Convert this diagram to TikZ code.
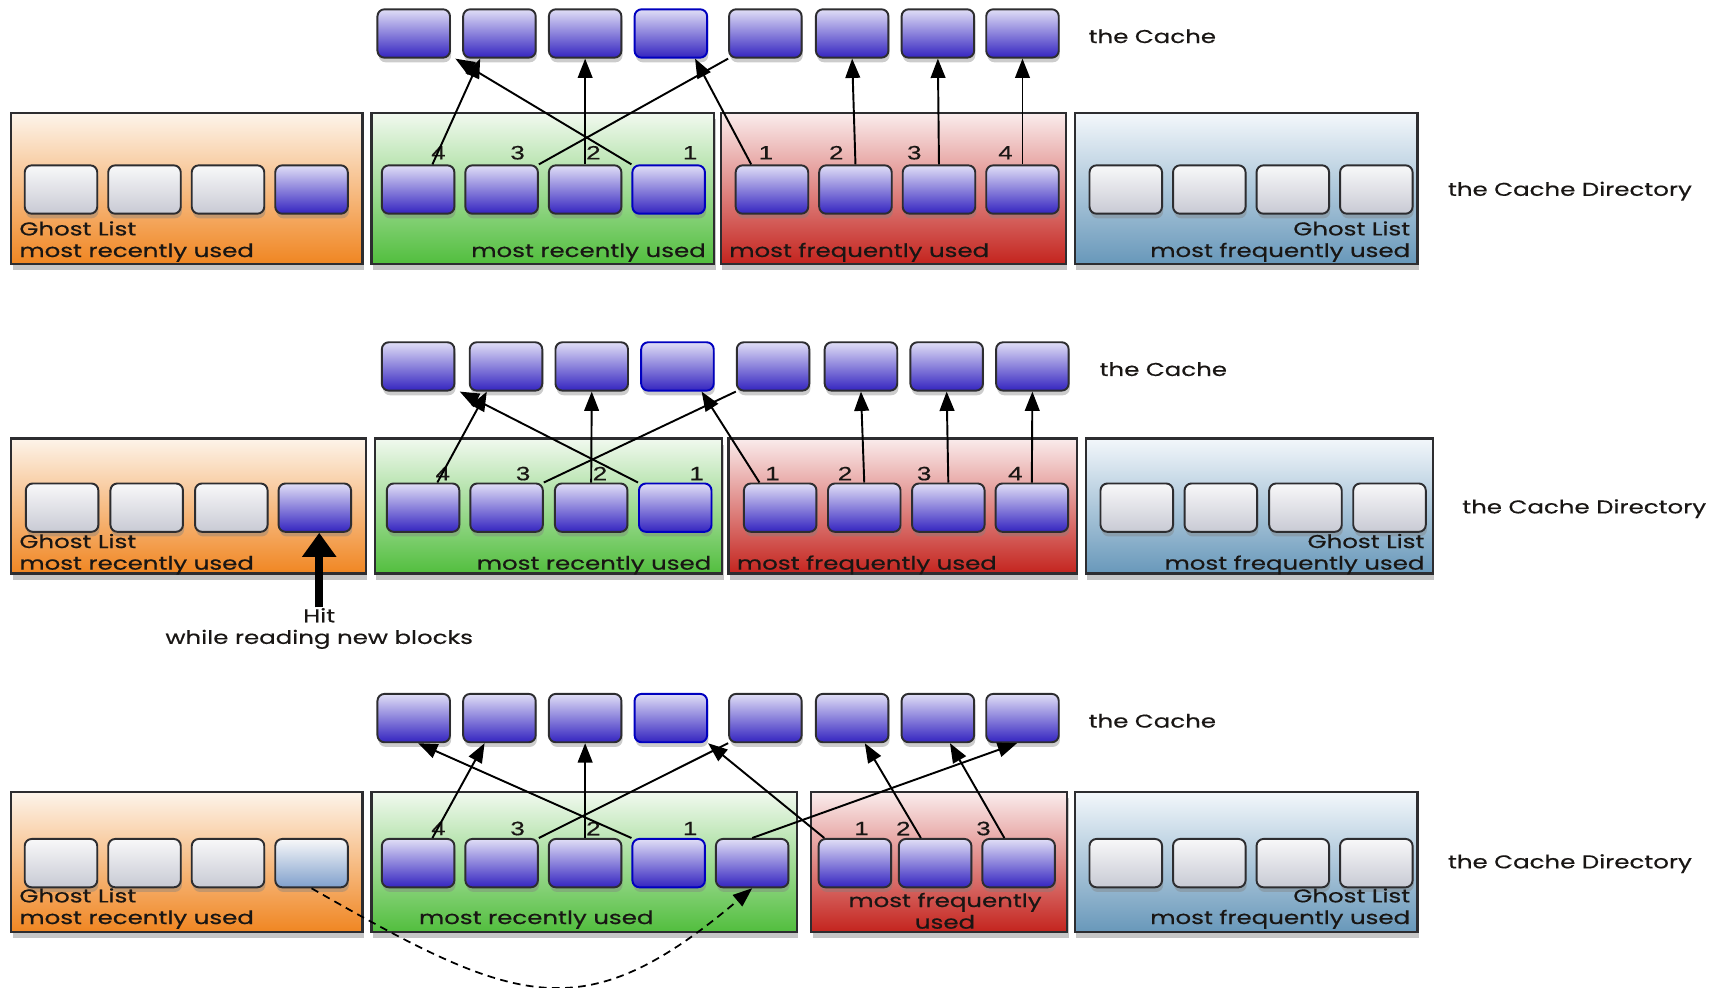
\documentclass[tikz,border=0pt]{standalone}
\usepackage{fontspec}
\usepackage{xcolor}
\usepackage{tikz}
\usetikzlibrary{arrows.meta,shadows}
\newfontfamily\labelfont[FakeStretch=1.32,FakeBold=0.5]{Poppins}
\newfontfamily\numfont[FakeStretch=1.35,FakeBold=0.4]{Liberation Sans}
\definecolor{textDark}{RGB}{25,22,20}
\definecolor{edgeDark}{RGB}{45,45,48}
\definecolor{orangeTop}{RGB}{253,244,234}
\definecolor{orangeBot}{RGB}{240,134,34}
\definecolor{greenTop}{RGB}{241,249,239}
\definecolor{greenBot}{RGB}{82,190,62}
\definecolor{redTop}{RGB}{250,236,236}
\definecolor{redBot}{RGB}{196,36,30}
\definecolor{blueTop}{RGB}{243,247,251}
\definecolor{blueBot}{RGB}{104,152,186}
\definecolor{blockTop}{RGB}{224,222,246}
\definecolor{blockBot}{RGB}{52,36,192}
\definecolor{ghostTop}{RGB}{248,248,249}
\definecolor{ghostBot}{RGB}{200,202,212}
\definecolor{fadeBot}{RGB}{128,160,204}

\begin{document}
\begin{tikzpicture}[every node/.style={text=textDark},
  region/.style={draw=edgeDark, line width=0.6pt, inner sep=0pt, minimum height=1.37cm,
    drop shadow={shadow xshift=0.4pt, shadow yshift=-1.6pt, opacity=0.45}},
  orangearea/.style={region, top color=orangeTop, bottom color=orangeBot},
  greenarea/.style={region, top color=greenTop, bottom color=greenBot},
  redarea/.style={region, top color=redTop, bottom color=redBot},
  bluearea/.style={region, top color=blueTop, bottom color=blueBot},
  block/.style={draw=edgeDark, line width=0.5pt, rounded corners=1.8pt, inner sep=0pt,
    minimum width=0.66cm, minimum height=0.44cm, top color=blockTop, bottom color=blockBot,
    drop shadow={shadow xshift=0.3pt, shadow yshift=-1.2pt, opacity=0.4}},
  hiblock/.style={block, draw=blue!75!black},
  ghost/.style={block, top color=ghostTop, bottom color=ghostBot},
  fadeblock/.style={block, top color=ghostTop, bottom color=fadeBot},
  lbl/.style={font=\labelfont\fontsize{4.8}{5.6}\selectfont, inner sep=0pt},
  num/.style={font=\numfont\fontsize{5}{5.5}\selectfont, inner sep=0pt},
  wire/.style={line width=0.5pt},
  link/.style={wire, -{Triangle[length=5pt,width=3.8pt]}}]
\useasboundingbox (0,0) rectangle (15.68,8.99);

% ---------- Panel 1 ----------
% the cache
\foreach \i/\x/\s in {1/3.765/block,2/4.545/block,3/5.325/block,4/6.105/hiblock,
                      5/6.965/block,6/7.755/block,7/8.535/block,8/9.305/block}
  \node[\s] (p1c\i) at (\x,8.685) {};
\node[lbl, anchor=west] (p1cache) at (9.90,8.66) {the Cache};

% the cache directory
\node[orangearea, minimum width=3.20cm] (p1orange) at (1.70,7.275) {};
\node[greenarea, minimum width=3.12cm] (p1green) at (4.94,7.275) {};
\node[redarea, minimum width=3.14cm] (p1red) at (8.13,7.275) {};
\node[bluearea, minimum width=3.12cm] (p1blue) at (11.34,7.275) {};
\node[lbl, anchor=west] (p1dir) at (13.17,7.25) {the Cache Directory};

\foreach \i/\x/\s in {1/0.555/ghost,2/1.315/ghost,3/2.075/ghost,4/2.835/block}
  \node[\s] (p1o\i) at (\x,7.265) {};
\foreach \i/\x/\s in {1/3.805/block,2/4.565/block,3/5.325/block,4/6.085/hiblock}
  \node[\s] (p1g\i) at (\x,7.265) {};
\foreach \i/\x in {1/7.025,2/7.785,3/8.545,4/9.305}
  \node[block] (p1r\i) at (\x,7.265) {};
\foreach \i/\x in {1/10.245,2/11.005,3/11.765,4/12.525}
  \node[ghost] (p1b\i) at (\x,7.265) {};

\foreach \n/\x in {4/3.99,3/4.71,2/5.40,1/6.28}
  \node[num] (p1gn\n) at (\x,7.60) {\n};
\foreach \n/\x in {1/6.97,2/7.61,3/8.32,4/9.15}
  \node[num] (p1rn\n) at (\x,7.60) {\n};

\node[lbl, anchor=south west, align=left] (p1olbl) at (0.17,6.60) {Ghost List\\most recently used};
\node[lbl, anchor=south east] (p1glbl) at (6.43,6.60) {most recently used};
\node[lbl, anchor=south west] (p1rlbl) at (6.63,6.60) {most frequently used};
\node[lbl, anchor=south east, align=right] (p1blbl) at (12.84,6.60) {Ghost List\\most frequently used};

\draw[link] ([xshift=0.13cm]p1g1.north) -- ([xshift=-0.175cm]p1c2.south);
\draw[link] (p1g4.north west) -- ([xshift=0.04cm]p1c1.south east);
\draw[link] (p1g3.north) -- (p1c3.south);
\draw[wire] (p1g2.north east) -- (p1c5.south west);
\draw[link] ([xshift=0.15cm]p1r1.north west) -- ([xshift=0.22cm]p1c4.south);
\foreach \i/\j in {2/6,3/7,4/8}
  \draw[link] (p1r\i.north) -- (p1c\j.south);

% ---------- Panel 2 ----------
\foreach \i/\x/\s in {1/3.805/block,2/4.605/block,3/5.385/block,4/6.165/hiblock,
                      5/7.035/block,6/7.835/block,7/8.615/block,8/9.395/block}
  \node[\s] (p2c\i) at (\x,5.655) {};
\node[lbl, anchor=west] (p2cache) at (10.00,5.63) {the Cache};

\node[orangearea, minimum width=3.23cm, minimum height=1.23cm] (p2orange) at (1.715,4.385) {};
\node[greenarea, minimum width=3.16cm, minimum height=1.23cm] (p2green) at (4.99,4.385) {};
\node[redarea, minimum width=3.17cm, minimum height=1.23cm] (p2red) at (8.215,4.385) {};
\node[bluearea, minimum width=3.16cm, minimum height=1.23cm] (p2blue) at (11.46,4.385) {};
\node[lbl, anchor=west] (p2dir) at (13.30,4.36) {the Cache Directory};

\foreach \i/\x/\s in {1/0.565/ghost,2/1.335/ghost,3/2.105/ghost,4/2.865/block}
  \node[\s] (p2o\i) at (\x,4.37) {};
\foreach \i/\x/\s in {1/3.85/block,2/4.61/block,3/5.38/block,4/6.145/hiblock}
  \node[\s] (p2g\i) at (\x,4.37) {};
\foreach \i/\x in {1/7.10,2/7.865,3/8.63,4/9.39}
  \node[block] (p2r\i) at (\x,4.37) {};
\foreach \i/\x in {1/10.345,2/11.11,3/11.88,4/12.645}
  \node[ghost] (p2b\i) at (\x,4.37) {};

\foreach \n/\x in {4/4.03,3/4.76,2/5.46,1/6.34}
  \node[num] (p2gn\n) at (\x,4.68) {\n};
\foreach \n/\x in {1/7.03,2/7.69,3/8.41,4/9.24}
  \node[num] (p2rn\n) at (\x,4.68) {\n};

\node[lbl, anchor=south west, align=left] (p2olbl) at (0.17,3.755) {Ghost List\\most recently used};
\node[lbl, anchor=south east] (p2glbl) at (6.48,3.755) {most recently used};
\node[lbl, anchor=south west] (p2rlbl) at (6.70,3.755) {most frequently used};
\node[lbl, anchor=south east, align=right] (p2blbl) at (12.97,3.755) {Ghost List\\most frequently used};

\draw[link] ([xshift=0.13cm]p2g1.north) -- ([xshift=-0.175cm]p2c2.south);
\draw[link] (p2g4.north west) -- ([xshift=0.04cm]p2c1.south east);
\draw[link] (p2g3.north) -- (p2c3.south);
\draw[wire] (p2g2.north east) -- (p2c5.south west);
\draw[link] ([xshift=0.15cm]p2r1.north west) -- ([xshift=0.22cm]p2c4.south);
\foreach \i/\j in {2/6,3/7,4/8}
  \draw[link] (p2r\i.north) -- (p2c\j.south);

% hit in the ghost list
\node[lbl, align=center] (hit) at (2.905,3.27) {Hit\\while reading new blocks};
\draw[line width=2pt, -{Triangle[width=0.3cm,length=0.22cm]}]
  (hit.north) -- (hit.north |- p2o4.south);

% ---------- Panel 3 ----------
\foreach \i/\x/\s in {1/3.765/block,2/4.545/block,3/5.325/block,4/6.105/hiblock,
                      5/6.965/block,6/7.755/block,7/8.535/block,8/9.305/block}
  \node[\s] (p3c\i) at (\x,2.455) {};
\node[lbl, anchor=west] (p3cache) at (9.90,2.43) {the Cache};

\node[orangearea, minimum width=3.20cm, minimum height=1.27cm] (p3orange) at (1.70,1.145) {};
\node[greenarea, minimum width=3.87cm, minimum height=1.27cm] (p3green) at (5.315,1.145) {};
\node[redarea, minimum width=2.33cm, minimum height=1.27cm] (p3red) at (8.545,1.145) {};
\node[bluearea, minimum width=3.12cm, minimum height=1.27cm] (p3blue) at (11.34,1.145) {};
\node[lbl, anchor=west] (p3dir) at (13.17,1.13) {the Cache Directory};

\foreach \i/\x/\s in {1/0.555/ghost,2/1.315/ghost,3/2.075/ghost,4/2.835/fadeblock}
  \node[\s] (p3o\i) at (\x,1.135) {};
\foreach \i/\x/\s in {1/3.805/block,2/4.565/block,3/5.325/block,4/6.085/hiblock,5/6.845/block}
  \node[\s] (p3g\i) at (\x,1.135) {};
\foreach \i/\x in {1/7.78,2/8.51,3/9.27}
  \node[block] (p3r\i) at (\x,1.135) {};
\foreach \i/\x in {1/10.245,2/11.005,3/11.765,4/12.525}
  \node[ghost] (p3b\i) at (\x,1.135) {};

\foreach \n/\x in {4/3.99,3/4.71,2/5.40,1/6.28}
  \node[num] (p3gn\n) at (\x,1.45) {\n};
\foreach \n/\x in {1/7.84,2/8.22,3/8.95}
  \node[num] (p3rn\n) at (\x,1.45) {\n};

\node[lbl, anchor=south west, align=left] (p3olbl) at (0.17,0.53) {Ghost List\\most recently used};
\node[lbl, anchor=south] (p3glbl) at (4.88,0.53) {most recently used};
\node[lbl, anchor=south, align=center] (p3rlbl) at (8.60,0.53) {most frequently\\used};
\node[lbl, anchor=south east, align=right] (p3blbl) at (12.84,0.53) {Ghost List\\most frequently used};

\draw[link] ([xshift=0.13cm]p3g1.north) -- ([xshift=-0.135cm]p3c2.south);
\draw[link] (p3g4.north west) -- ([xshift=0.04cm]p3c1.south);
\draw[link] (p3g3.north) -- (p3c3.south);
\draw[wire] (p3g2.north east) -- (p3c5.south west);
\draw[link] ([xshift=0.06cm]p3r1.north west) -- (p3c4.south east);
\draw[link] (p3g5.north) -- ([xshift=-0.05cm]p3c8.south);
\draw[link] ([xshift=-0.13cm]p3r2.north) -- ([xshift=0.115cm]p3c6.south);
\draw[link] ([xshift=-0.13cm]p3r3.north) -- ([xshift=0.11cm]p3c7.south);

% ghost hit moves into the recency list
\draw[line width=0.45pt, dash pattern=on 2pt off 1.4pt, -{Triangle[length=5pt,width=3.8pt]}]
  (p3o4.south) .. controls (4.7,-0.16) and (5.3,-0.40) .. (p3g5.south);

\end{tikzpicture}
\end{document}
